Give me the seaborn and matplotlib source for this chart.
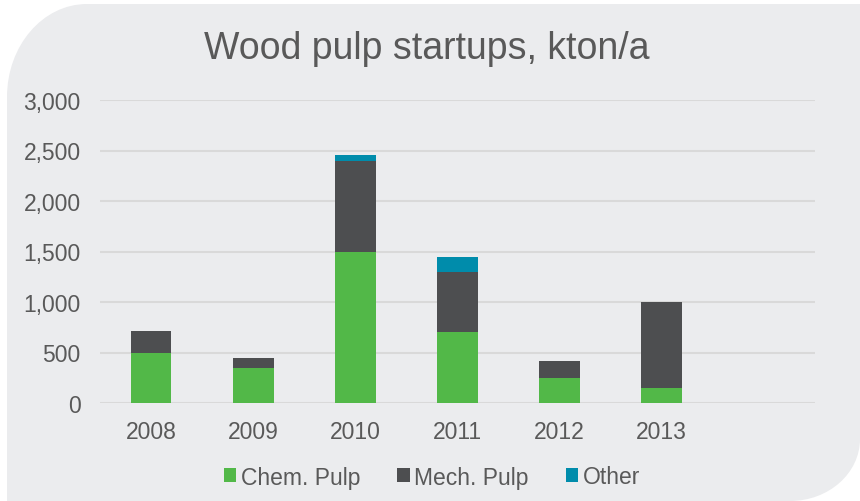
import numpy as np
import pandas as pd
import seaborn as sns
import matplotlib.pyplot as plt
from matplotlib.path import Path
from matplotlib.patches import PathPatch, Patch
from matplotlib.ticker import FuncFormatter

# data (kton/a)
years = ['2008', '2009', '2010', '2011', '2012', '2013']
chem_pulp = [500, 350, 1500, 700, 250, 150]
mech_pulp = [210, 100, 900, 600, 170, 850]
other = [0, 0, 60, 150, 0, 0]
series_names = ['Chem. Pulp', 'Mech. Pulp', 'Other']
y_ticks = [0, 500, 1000, 1500, 2000, 2500, 3000]

GREEN = '#52B848'
DARK = '#4D4E50'
TEAL = '#008CAB'
PANEL = '#EBECEE'
GRID = '#D9D9D9'
TEXT = '#595959'

W, H = 860, 502

sns.set_style("white")
plt.rcParams['font.family'] = ['Liberation Sans', 'DejaVu Sans']
plt.rcParams['text.color'] = TEXT
plt.rcParams['xtick.color'] = TEXT
plt.rcParams['ytick.color'] = TEXT

df = pd.DataFrame({'year': years, 'chem': chem_pulp, 'mech': mech_pulp, 'other': other})
df['chem_mech'] = df['chem'] + df['mech']
df['total'] = df['chem_mech'] + df['other']

fig = plt.figure(figsize=(W / 100, H / 100), dpi=100)
fig.patch.set_facecolor('white')


def px(x, y):
    return (x / W, 1 - y / H)


# rounded grey panel behind the chart
k = 0.5523
verts = [
    px(7, 98),
    px(7, 98 - 93 * k), px(87 - 80 * k, 5), px(87, 5),
    px(W, 5),
    px(W, 440),
    px(W, 440 + 62 * k), px(790 + 70 * k, H), px(790, H),
    px(7, H),
    px(7, 98),
]
codes = [Path.MOVETO,
         Path.CURVE4, Path.CURVE4, Path.CURVE4,
         Path.LINETO, Path.LINETO,
         Path.CURVE4, Path.CURVE4, Path.CURVE4,
         Path.LINETO, Path.CLOSEPOLY]
fig.add_artist(PathPatch(Path(verts, codes), facecolor=PANEL, edgecolor='none',
                         transform=fig.transFigure, zorder=-10))

ax = fig.add_axes([100 / W, 1 - 404 / H, 715 / W, 303 / H])
ax.set_facecolor('none')

# stacked bars: draw cumulative totals back to front
sns.barplot(data=df, x='year', y='total', color=TEAL, width=0.4, saturation=1,
            linewidth=0, errorbar=None, ax=ax)
sns.barplot(data=df, x='year', y='chem_mech', color=DARK, width=0.4, saturation=1,
            linewidth=0, errorbar=None, ax=ax)
sns.barplot(data=df, x='year', y='chem', color=GREEN, width=0.4, saturation=1,
            linewidth=0, errorbar=None, ax=ax)

ax.set_xlim(-0.5, 6.5)
ax.set_ylim(0, 3000)
ax.set_yticks(y_ticks)
ax.yaxis.set_major_formatter(FuncFormatter(lambda v, p: f"{v:,.0f}"))
ax.set_xlabel('')
ax.set_ylabel('')
ax.yaxis.grid(True, color=GRID, linewidth=1.5)
ax.xaxis.grid(False)
ax.set_axisbelow(True)
for s in ax.spines.values():
    s.set_visible(False)
ax.tick_params(axis='y', length=0, pad=14, labelsize=16.5)
ax.tick_params(axis='x', length=0, pad=12, labelsize=16.5)

fig.text(px(427, 0)[0], px(0, 49)[1], 'Wood pulp startups, kton/a', ha='center', va='center',
         fontsize=27, color=TEXT)

handles = [Patch(facecolor=c, edgecolor='none') for c in [GREEN, DARK, TEAL]]
fig.legend(handles, series_names, loc='center', bbox_to_anchor=px(432, 478), ncol=3,
           frameon=False, fontsize=16.5, handlelength=0.55, handleheight=0.55,
           handletextpad=0.2, columnspacing=1.6)

fig.savefig('out.png', dpi=100)
